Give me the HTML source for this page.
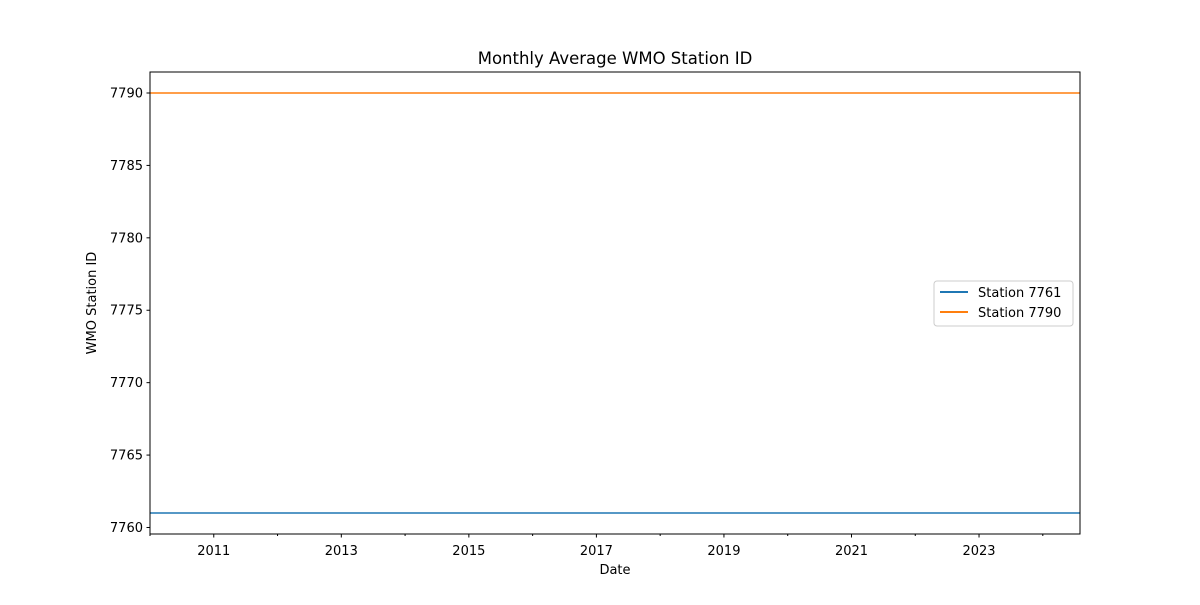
<!DOCTYPE html>
<html><head><meta charset="utf-8"><style>
body{margin:0;background:#fff;}
svg{font-family:"DejaVu Sans","Liberation Sans",sans-serif;}
</style></head><body>
<svg id="chart" width="1200" height="600" xmlns="http://www.w3.org/2000/svg">
<rect width="1200" height="600" fill="#fff"/>
<text x="615" y="64" font-size="16.5" text-anchor="middle">Monthly Average WMO Station ID</text>
<text x="615" y="574" font-size="13" text-anchor="middle">Date</text>
<text x="0" y="0" font-size="13" text-anchor="middle" transform="translate(96,303) rotate(-90)">WMO Station ID</text>
<g id="marks"></g>
<rect x="150" y="72" width="930" height="462" fill="none" stroke="#000" stroke-width="1"/>
<g>
<rect x="934" y="281" width="139" height="45" rx="3" fill="#fff" fill-opacity="0.8" stroke="#ccc"/>
<line x1="940" y1="292" x2="968" y2="292" stroke="#1f77b4" stroke-width="2"/>
<text x="978" y="297" font-size="13">Station 7761</text>
<line x1="940" y1="312" x2="968" y2="312" stroke="#ff7f0e" stroke-width="2"/>
<text x="978" y="317" font-size="13">Station 7790</text>
</g>
</svg>
<script>
const dates = ['2010-01', '2024-08'];
const station7761 = [7761, 7761];
const station7790 = [7790, 7790];
const yTicks = [7760, 7765, 7770, 7775, 7780, 7785, 7790];
const xMajorYears = [2011, 2013, 2015, 2017, 2019, 2021, 2023];
const xMinorYears = [2010, 2012, 2014, 2016, 2018, 2020, 2022, 2024];

const L = 150, R = 1080, T = 72, B = 534;
const NS = 'http://www.w3.org/2000/svg';
function dec(d){const [y,m]=d.split('-').map(Number);return y+(m-1)/12;}
const x0 = dec(dates[0]), x1 = dec(dates[dates.length-1]);
const allY = station7761.concat(station7790);
const yMinD = Math.min(...allY), yMaxD = Math.max(...allY), pad = (yMaxD-yMinD)*0.05;
const y0 = yMinD - pad, y1 = yMaxD + pad;
const xs = v => L + (v - x0) / (x1 - x0) * (R - L);
const ys = v => B - (v - y0) / (y1 - y0) * (B - T);
const g = document.getElementById('marks');
function mk(tag, attrs){const e=document.createElementNS(NS,tag);for(const k in attrs)e.setAttribute(k,attrs[k]);g.appendChild(e);return e;}

yTicks.forEach(t => {
  const y = ys(t);
  const tk = mk('line',{x1:L-3.5,x2:L,y1:y,y2:y,stroke:'#000'});
  
  
  const lb = mk('text',{x:L-7,y:y+4.5,'font-size':13,'text-anchor':'end'});
  lb.textContent = t;
  
  
});
xMajorYears.forEach(t => {
  const x = xs(t);
  const tk = mk('line',{x1:x,x2:x,y1:B,y2:B+3.5,stroke:'#000'});
  
  
  const lb = mk('text',{x:x,y:B+21,'font-size':13,'text-anchor':'middle'});
  lb.textContent = t;
  
  
});
xMinorYears.forEach(t => {
  const x = xs(t);
  const tk = mk('line',{x1:x,x2:x,y1:B,y2:B+2,stroke:'#000'});
  
  
});
function series(vals, color, name){
  const pts = dates.map((d,i)=>xs(dec(d))+','+ys(vals[i])).join(' ');
  const p = mk('polyline',{points:pts,fill:'none',stroke:color,'stroke-width':1.5});
  
  
}
series(station7761,'#1f77b4','line-station-7761');
series(station7790,'#ff7f0e','line-station-7790');
</script>
</body></html>
